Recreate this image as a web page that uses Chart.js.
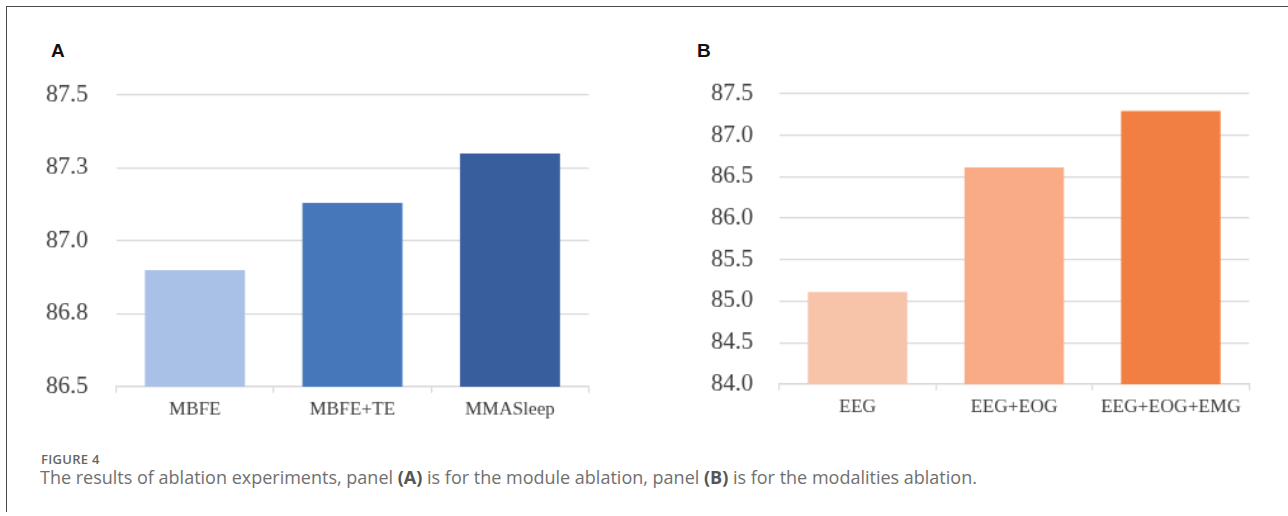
<!DOCTYPE html>
<html>
<head>
<meta charset="utf-8">
<script src="https://cdn.jsdelivr.net/npm/chart.js@4.4.1/dist/chart.umd.min.js"></script>
<style>
  body { margin: 0; background: #fff; }
  #page { position: relative; width: 1288px; height: 516px; overflow: hidden; background: #fff; }
  .frame-top { position: absolute; left: 6px; top: 6px; right: 0; height: 0; border-top: 1.5px solid #4a4a4a; }
  .frame-left { position: absolute; left: 6px; top: 6px; width: 0; height: 506px; border-left: 1.5px solid #4a4a4a; }
  .panel-letter { position: absolute; font-family: "Liberation Sans", Arial, sans-serif; font-weight: bold; font-size: 19px; color: #111; }
  .box { position: absolute; top: 0; height: 440px; }
  #figLabel { position: absolute; left: 41px; top: 453px; line-height: 13px; font-family: "Open Sans", sans-serif; font-weight: 600; font-size: 13px; color: #666; letter-spacing: 0.3px; }
  #caption { position: absolute; left: 40px; top: 468px; line-height: 18px; font-family: "Open Sans", sans-serif; font-size: 18px; color: #707070; white-space: nowrap; }
  #caption b { color: #555; }
</style>
</head>
<body>
<div id="page">
  <div class="frame-top"></div>
  <div class="frame-left"></div>
  <div class="panel-letter" style="left:51px; top:40px;">A</div>
  <div class="panel-letter" style="left:697px; top:40px;">B</div>
  <div class="box" style="left:0; width:640px;"><canvas id="chartA"></canvas></div>
  <div class="box" style="left:640px; width:648px;"><canvas id="chartB"></canvas></div>
  <div id="figLabel">FIGURE 4</div>
  <div id="caption">The results of ablation experiments, panel <b>(A)</b> is for the module ablation, panel <b>(B)</b> is for the modalities ablation.</div>
</div>
<script>
// panel A: module ablation
const moduleLabels = ["MBFE", "MBFE+TE", "MMASleep"];
const moduleAcc = [86.90, 87.13, 87.30];
const moduleTicks = [86.5, 86.75, 87.0, 87.25, 87.5];

// panel B: modalities ablation
const modalityLabels = ["EEG", "EEG+EOG", "EEG+EOG+EMG"];
const modalityAcc = [85.11, 86.61, 87.29];
const modalityTicks = [84.0, 84.5, 85.0, 85.5, 86.0, 86.5, 87.0, 87.5];

const blues = ["#a9c1e6", "#4777bb", "#385e9d"];
const oranges = ["#f8c4a9", "#f8ab85", "#f07f41"];

const gridGray = "#d9d9d9";
const textGray = "#3a3a3a";
const serif = "'Liberation Serif', 'Times New Roman', serif";

// big serif text falls back to sans on canvas here, so render a bit under 1:1
const pixelRatio = 0.79;

function makeChart(id, labels, values, colors, ticks, opt) {
  return new Chart(document.getElementById(id), {
    type: "bar",
    data: {
      labels: labels,
      datasets: [{
        data: values,
        backgroundColor: colors,
        borderWidth: 0,
        categoryPercentage: 1.0,
        barPercentage: 0.635
      }]
    },
    options: {
      responsive: true,
      maintainAspectRatio: false,
      animation: false,
      devicePixelRatio: pixelRatio,
      layout: { padding: { top: opt.top, right: opt.right, left: 0, bottom: 0 } },
      plugins: { legend: { display: false }, tooltip: { enabled: false } },
      scales: {
        x: {
          grid: { drawOnChartArea: false, drawTicks: true, tickLength: 6, color: gridGray, lineWidth: 1.5 },
          border: { color: gridGray, width: 1.5 },
          ticks: { color: textGray, padding: 5, font: { family: serif, size: 19 } },
          afterFit: s => { s.height = 440 - opt.bottom; }
        },
        y: {
          min: ticks[0],
          max: ticks[ticks.length - 1],
          afterBuildTicks: s => { s.ticks = ticks.map(v => ({ value: v })); },
          afterFit: s => { s.width = opt.left; },
          grid: { color: gridGray, lineWidth: 1.5, drawTicks: false },
          border: { display: false },
          ticks: {
            color: textGray,
            padding: opt.pad,
            font: { family: serif, size: 24 },
            callback: v => Number(v).toFixed(1)
          }
        }
      }
    }
  });
}

makeChart("chartA", moduleLabels, moduleAcc, blues, moduleTicks,
  { top: 95, bottom: 386, left: 116, right: 52, pad: 28 });
makeChart("chartB", modalityLabels, modalityAcc, oranges, modalityTicks,
  { top: 93.5, bottom: 383.5, left: 139, right: 40, pad: 26 });
</script>
</body>
</html>
